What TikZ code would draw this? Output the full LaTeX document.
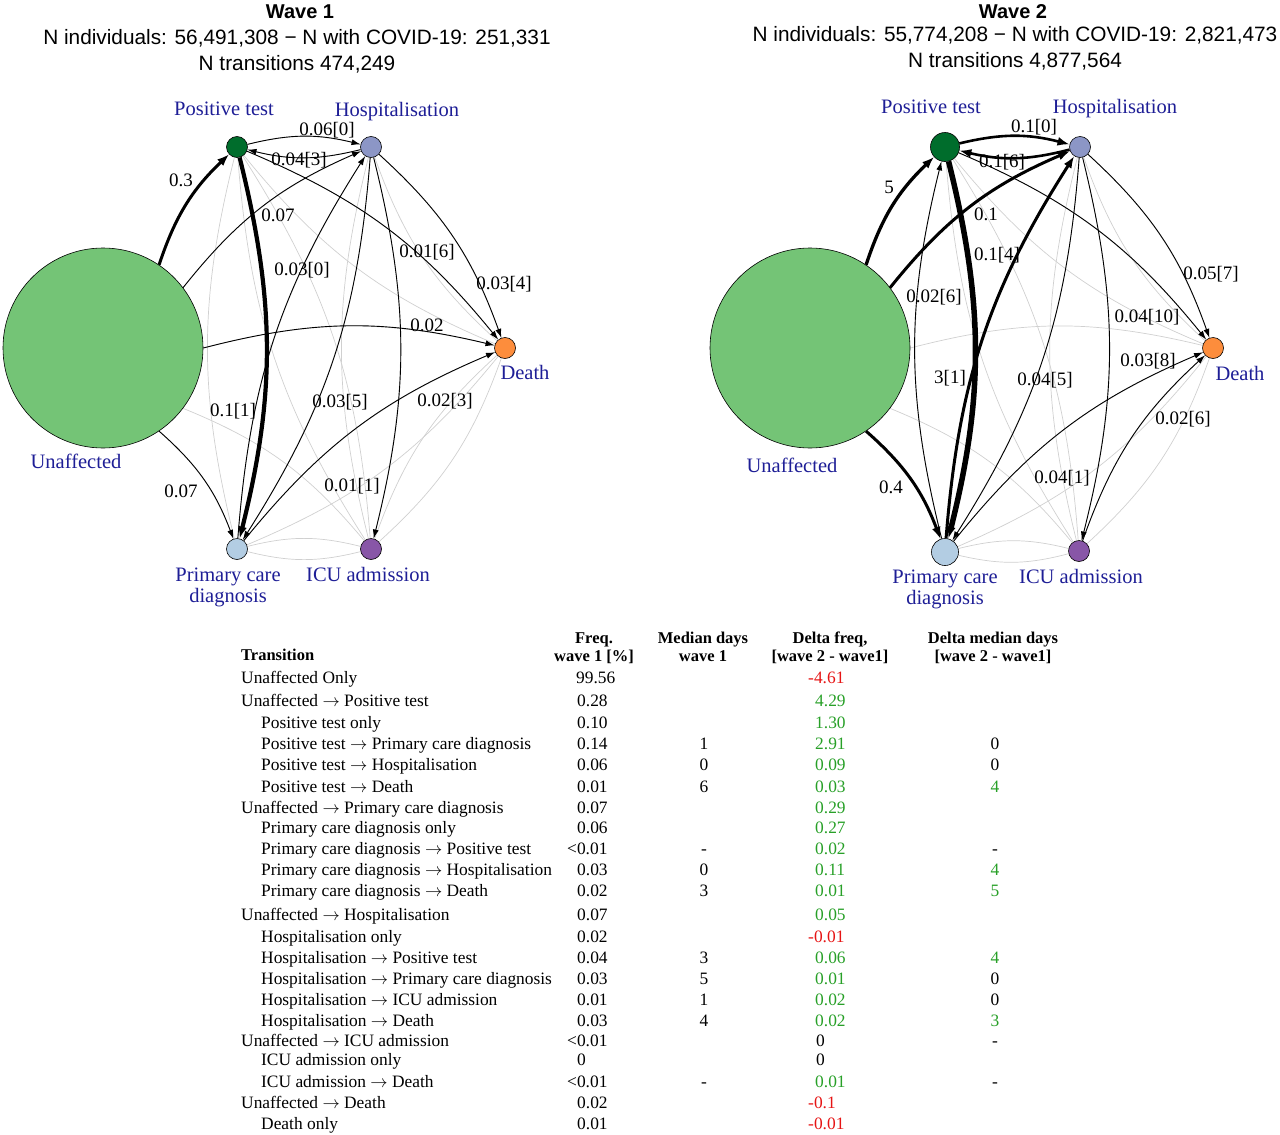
\documentclass[tikz,border=0pt]{standalone}
\usepackage{fontspec}
\setmainfont{Liberation Serif}
\newfontfamily\hdrfont{Liberation Sans}
\usetikzlibrary{arrows.meta}
\pgfdeclarelayer{bg}
\pgfsetlayers{bg,main}
\definecolor{labblue}{RGB}{30,30,150}
\definecolor{cU}{HTML}{74C476}
\definecolor{cPT}{HTML}{006D2C}
\definecolor{cH}{HTML}{8C96C6}
\definecolor{cD}{HTML}{FD8D3C}
\definecolor{cI}{HTML}{8856A7}
\definecolor{cPC}{HTML}{B3CDE3}
\definecolor{gedge}{HTML}{D0D0D0}
\definecolor{pos}{RGB}{40,160,40}
\definecolor{neg}{RGB}{230,20,20}
\newcommand\myarr{$\rightarrow$}
\begin{document}
\begin{tikzpicture}[x=1pt,y=-1pt,
  state/.style={circle,draw=black,line width=0.6pt,inner sep=0pt},
  nlab/.style={text=labblue,font=\fontsize{20.5}{21}\selectfont,inner sep=0pt,text height=14pt,text depth=4pt},
  nlab2/.style={text=labblue,font=\fontsize{20.5}{21}\selectfont,inner sep=0pt,align=center},
  elab/.style={font=\fontsize{19}{21}\selectfont,inner sep=0pt,text height=13pt,text depth=4pt},
  grayedge/.style={draw=gedge,line width=0.7pt,bend left=14},
  tr/.style={-{Latex[length=9pt,width=6pt]},bend left=14,line width=0.9pt},
  trb/.style={-{Latex[length=12pt,width=9pt]},bend left=14},
  hdr/.style={font=\hdrfont\fontsize{20.8}{22}\selectfont,anchor=base,inner sep=0pt},
  hdrb/.style={font=\hdrfont\bfseries\fontsize{20}{22}\selectfont,anchor=base,inner sep=0pt},
  tcell/.style={font=\fontsize{17.4}{20}\selectfont,anchor=base west,inner sep=0pt},
  tcellc/.style={font=\fontsize{17.4}{20}\selectfont,anchor=base,inner sep=0pt},
  thead/.style={font=\bfseries\fontsize{16.5}{18}\selectfont,anchor=base,inner sep=0pt}
]
\useasboundingbox (0,0) rectangle (1280,1135);

% ---------------- titles
\node[hdrb] (t1a) at (300,18) {Wave 1};
\node[hdr] (t1b) at (297,44) {N individuals: 56,491,308 − N with COVID-19: 251,331};
\node[hdr] (t1c) at (297,70) {N transitions 474,249};
\node[hdrb] (t2a) at (1013,18) {Wave 2};
\node[hdr] (t2b) at (1015,41) {N individuals: 55,774,208 − N with COVID-19: 2,821,473};
\node[hdr] (t2c) at (1015,67) {N transitions 4,877,564};

% ---------------- wave 1 nodes
\node[state,fill=cU,minimum size=200pt] (aU) at (103,348) {};
\node[state,fill=cPT,minimum size=21pt] (aPT) at (237,147) {};
\node[state,fill=cH,minimum size=21pt] (aH) at (371,147) {};
\node[state,fill=cD,minimum size=21pt] (aD) at (505,348) {};
\node[state,fill=cI,minimum size=21pt] (aI) at (371,549) {};
\node[state,fill=cPC,minimum size=21pt] (aPC) at (237,549) {};

% ---------------- wave 2 nodes
\node[state,fill=cU,minimum size=200pt] (bU) at (810,348) {};
\node[state,fill=cPT,minimum size=29pt] (bPT) at (945,147) {};
\node[state,fill=cH,minimum size=21pt] (bH) at (1080,147) {};
\node[state,fill=cD,minimum size=21pt] (bD) at (1213,348) {};
\node[state,fill=cI,minimum size=21pt] (bI) at (1079,551) {};
\node[state,fill=cPC,minimum size=27pt] (bPC) at (945,552) {};

% ---------------- node labels
\node[nlab] (laPT) at (224,110) {Positive test};
\node[nlab] (laH) at (397,111) {Hospitalisation};
\node[nlab] (laD) at (525,374) {Death};
\node[nlab] (laU) at (76,463) {Unaffected};
\node[nlab2] (laPC) at (228,587) {Primary care\\diagnosis};
\node[nlab] (laI) at (368,576) {ICU admission};
\node[nlab] (lbPT) at (931,108) {Positive test};
\node[nlab] (lbH) at (1115,108) {Hospitalisation};
\node[nlab] (lbD) at (1240,375) {Death};
\node[nlab] (lbU) at (792,467) {Unaffected};
\node[nlab2] (lbPC) at (945,589) {Primary care\\diagnosis};
\node[nlab] (lbI) at (1081,578) {ICU admission};

% ---------------- grey (unobserved) transitions
\begin{pgfonlayer}{bg}
\foreach \w in {a,b}{
  \foreach \i/\sn in {2/PT,3/H,4/D,5/I,6/PC}{
    \foreach \j/\tn in {2/PT,3/H,4/D,5/I,6/PC}{
      \ifnum\i=\j\else\draw[grayedge] (\w\sn) to (\w\tn);\fi
    }}}
\draw[grayedge] (aU.56) to (aPT);
\draw[grayedge] (aU.37) to (aH);
\draw[grayedge] (aU.0) to (aD);
\draw[grayedge] (aU.-37) to (aI);
\draw[grayedge] (aU.-56) to (aPC);
\draw[grayedge] (bU.56) to (bPT);
\draw[grayedge] (bU.37) to (bH);
\draw[grayedge] (bU.0) to (bD);
\draw[grayedge] (bU.-37) to (bI);
\draw[grayedge] (bU.-56) to (bPC);

% ---------------- wave 1 transitions
\draw[trb,line width=3pt] (aU.56) to (aPT);
\draw[tr] (aU.37) to (aH);
\draw[tr] (aU.0) to (aD);
\draw[tr] (aU.-56) to (aPC);
\draw[tr] (aPT) to (aH);
\draw[tr] (aH) to (aPT);
\draw[trb,line width=4.2pt] (aPT) to (aPC);
\draw[tr] (aPT) to (aD);
\draw[tr] (aPC) to (aH);
\draw[tr] (aH) to (aPC);
\draw[tr] (aPC) to (aD);
\draw[tr] (aH) to (aI);
\draw[tr] (aH) to (aD);

% ---------------- wave 2 transitions
\draw[trb,line width=3.3pt] (bU.56) to (bPT);
\draw[trb,line width=3pt] (bU.37) to (bH);
\draw[trb,line width=3pt] (bU.-56) to (bPC);
\draw[trb,line width=2.6pt] (bPT) to (bH);
\draw[trb,line width=2.6pt] (bH) to (bPT);
\draw[trb,line width=5.5pt] (bPT) to (bPC);
\draw[tr] (bPC) to (bPT);
\draw[tr] (bPT) to (bD);
\draw[trb,line width=3pt] (bPC) to (bH);
\draw[tr] (bH) to (bPC);
\draw[tr] (bH) to (bI);
\draw[tr] (bH) to (bD);
\draw[tr] (bPC) to (bD);
\draw[tr] (bI) to (bD);
\end{pgfonlayer}

% ---------------- wave 1 edge labels
\node[elab] (ea1) at (181,182) {0.3};
\node[elab] (ea2) at (327,131) {0.06[0]};
\node[elab] (ea3) at (299,161) {0.04[3]};
\node[elab] (ea4) at (278,217) {0.07};
\node[elab] (ea5) at (302,271) {0.03[0]};
\node[elab] (ea6) at (427,253) {0.01[6]};
\node[elab] (ea7) at (504,285) {0.03[4]};
\node[elab] (ea8) at (427,327) {0.02};
\node[elab] (ea9) at (233,412) {0.1[1]};
\node[elab] (ea10) at (340,403) {0.03[5]};
\node[elab] (ea11) at (445,402) {0.02[3]};
\node[elab] (ea12) at (352,487) {0.01[1]};
\node[elab] (ea13) at (181,493) {0.07};

% ---------------- wave 2 edge labels
\node[elab] (eb1) at (889,189) {5};
\node[elab] (eb2) at (1034,128) {0.1[0]};
\node[elab] (eb3) at (1002,163) {0.1[6]};
\node[elab] (eb4) at (986,216) {0.1};
\node[elab] (eb5) at (997,256) {0.1[4]};
\node[elab] (eb6) at (934,298) {0.02[6]};
\node[elab] (eb7) at (1211,275) {0.05[7]};
\node[elab] (eb8) at (1147,318) {0.04[10]};
\node[elab] (eb9) at (1148,362) {0.03[8]};
\node[elab] (eb10) at (950,379) {3[1]};
\node[elab] (eb11) at (1045,381) {0.04[5]};
\node[elab] (eb12) at (1183,420) {0.02[6]};
\node[elab] (eb13) at (1062,479) {0.04[1]};
\node[elab] (eb14) at (891,489) {0.4};

% ---------------- table header
\node[thead,anchor=base west] (h1) at (241,660) {Transition};
\node[thead] (h2a) at (594,643) {Freq.};
\node[thead] (h2b) at (594,661) {wave 1 [\%]};
\node[thead] (h3a) at (703,643) {Median days};
\node[thead] (h3b) at (703,661) {wave 1};
\node[thead] (h4a) at (830,643) {Delta freq,};
\node[thead] (h4b) at (830,661) {[wave 2 - wave1]};
\node[thead] (h5a) at (993,643) {Delta median days};
\node[thead] (h5b) at (993,661) {[wave 2 - wave1]};

% ---------------- table rows
\foreach \yb/\ix/\txt/\fx/\fv/\mv/\dx/\dcol/\dv/\ecol/\ev [count=\k] in {
683/241/Unaffected Only/576/99.56/{}/808/neg/-4.61/black/{},
706/241/Unaffected \myarr{} Positive test/577/0.28/{}/815/pos/4.29/black/{},
728/261/Positive test only/577/0.10/{}/815/pos/1.30/black/{},
749/261/Positive test \myarr{} Primary care diagnosis/577/0.14/1/815/pos/2.91/black/0,
770/261/Positive test \myarr{} Hospitalisation/577/0.06/0/815/pos/0.09/black/0,
792/261/Positive test \myarr{} Death/577/0.01/6/815/pos/0.03/pos/4,
813/241/Unaffected \myarr{} Primary care diagnosis/577/0.07/{}/815/pos/0.29/black/{},
833/261/Primary care diagnosis only/577/0.06/{}/815/pos/0.27/black/{},
854/261/Primary care diagnosis \myarr{} Positive test/567/<0.01/-/815/pos/0.02/black/-,
875/261/Primary care diagnosis \myarr{} Hospitalisation/577/0.03/0/815/pos/0.11/pos/4,
896/261/Primary care diagnosis \myarr{} Death/577/0.02/3/815/pos/0.01/pos/5,
920/241/Unaffected \myarr{} Hospitalisation/577/0.07/{}/815/pos/0.05/black/{},
942/261/Hospitalisation only/577/0.02/{}/808/neg/-0.01/black/{},
963/261/Hospitalisation \myarr{} Positive test/577/0.04/3/815/pos/0.06/pos/4,
984/261/Hospitalisation \myarr{} Primary care diagnosis/577/0.03/5/815/pos/0.01/black/0,
1005/261/Hospitalisation \myarr{} ICU admission/577/0.01/1/815/pos/0.02/black/0,
1026/261/Hospitalisation \myarr{} Death/577/0.03/4/815/pos/0.02/pos/3,
1046/241/Unaffected \myarr{} ICU admission/567/<0.01/{}/816/black/0/black/-,
1065/261/ICU admission only/577/0/{}/816/black/0/black/{},
1087/261/ICU admission \myarr{} Death/567/<0.01/-/815/pos/0.01/black/-,
1108/241/Unaffected \myarr{} Death/577/0.02/{}/808/neg/-0.1/black/{},
1129/261/Death only/577/0.01/{}/808/neg/-0.01/black/{}}{
  \node[tcell] (r\k a) at (\ix,\yb) {\txt};
  \node[tcell] (r\k b) at (\fx,\yb) {\fv};
  \node[tcellc] (r\k c) at (704,\yb) {\mv};
  \node[tcell,text=\dcol] (r\k d) at (\dx,\yb) {\dv};
  \node[tcellc,text=\ecol] (r\k e) at (995,\yb) {\ev};
}
\end{tikzpicture}
\end{document}
